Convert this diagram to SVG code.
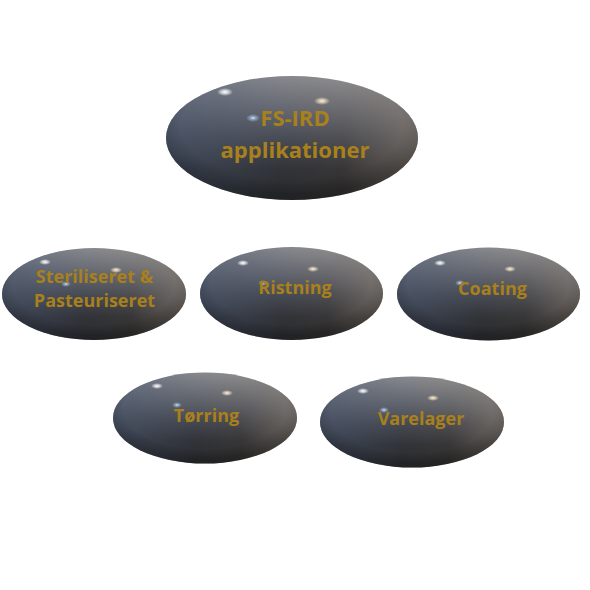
<svg xmlns="http://www.w3.org/2000/svg" width="590" height="590" viewBox="0 0 590 590">
<defs>
<linearGradient id="gv" x1="0" y1="0" x2="0" y2="1">
<stop offset="0" stop-color="#8e8e90"/>
<stop offset="0.25" stop-color="#6a6c72"/>
<stop offset="0.5" stop-color="#484a50"/>
<stop offset="0.75" stop-color="#2e2e30"/>
<stop offset="1" stop-color="#232323"/>
</linearGradient>
<linearGradient id="gh" x1="0" y1="0" x2="1" y2="0">
<stop offset="0" stop-color="#4a5a78" stop-opacity="0.5"/>
<stop offset="0.45" stop-color="#4a5a78" stop-opacity="0.12"/>
<stop offset="0.7" stop-color="#8a7c70" stop-opacity="0.1"/>
<stop offset="1" stop-color="#9a8c7c" stop-opacity="0.5"/>
</linearGradient>
<radialGradient id="ge" cx="0.5" cy="0.4" r="0.55">
<stop offset="0.8" stop-color="#000" stop-opacity="0"/>
<stop offset="1" stop-color="#000" stop-opacity="0.2"/>
</radialGradient>
<radialGradient id="hl" cx="0.5" cy="0.5" r="0.5">
<stop offset="0" stop-color="#ffffff" stop-opacity="1"/>
<stop offset="0.4" stop-color="#ffffff" stop-opacity="0.7"/>
<stop offset="1" stop-color="#ffffff" stop-opacity="0"/>
</radialGradient>
<radialGradient id="hw" cx="0.5" cy="0.5" r="0.5">
<stop offset="0" stop-color="#fff6e0" stop-opacity="1"/>
<stop offset="0.4" stop-color="#f6e6c8" stop-opacity="0.7"/>
<stop offset="1" stop-color="#f6e6c8" stop-opacity="0"/>
</radialGradient>
<radialGradient id="hb" cx="0.5" cy="0.5" r="0.5">
<stop offset="0" stop-color="#e0f0ff" stop-opacity="1"/>
<stop offset="0.4" stop-color="#a8c8ee" stop-opacity="0.6"/>
<stop offset="1" stop-color="#a8c8ee" stop-opacity="0"/>
</radialGradient>
</defs>
<style>
.b{fill:url(#gv)}
.h{fill:url(#gh)}
.e{fill:url(#ge)}
.t{font-family:"Open Sans","Noto Sans","Liberation Sans",sans-serif;font-weight:bold;fill:#a8801c;text-anchor:middle}
.s{font-size:18px}
.l{font-size:22px}
</style>
<rect width="590" height="590" fill="#ffffff"/>
<g id="connectors"></g>
<g id="n0">
<ellipse class="b" cx="292" cy="138" rx="126" ry="62"/>
<ellipse class="h" cx="292" cy="138" rx="126" ry="62"/>
<ellipse class="e" cx="292" cy="138" rx="126" ry="62"/>
<ellipse fill="url(#hl)" cx="225" cy="92" rx="8" ry="4"/>
<ellipse fill="url(#hw)" cx="322" cy="101" rx="8" ry="4"/>
<ellipse fill="url(#hb)" cx="253" cy="118" rx="7" ry="4"/>
<text class="t l" x="295" y="126">FS-IRD</text>
<text class="t l" x="295" y="158">applikationer</text>
</g>
<g id="n1">
<ellipse class="b" cx="94" cy="294" rx="92" ry="46"/>
<ellipse class="h" cx="94" cy="294" rx="92" ry="46"/>
<ellipse class="e" cx="94" cy="294" rx="92" ry="46"/>
<ellipse fill="url(#hl)" cx="45" cy="262" rx="6" ry="3"/>
<ellipse fill="url(#hw)" cx="116" cy="270" rx="6" ry="3"/>
<ellipse fill="url(#hb)" cx="66" cy="284" rx="5" ry="3"/>
<text class="t s" x="94.5" y="283">Steriliseret &amp;</text>
<text class="t s" x="94.5" y="307">Pasteuriseret</text>
</g>
<g id="n2">
<ellipse class="b" cx="291.5" cy="293.5" rx="91.5" ry="46.5"/>
<ellipse class="h" cx="291.5" cy="293.5" rx="91.5" ry="46.5"/>
<ellipse class="e" cx="291.5" cy="293.5" rx="91.5" ry="46.5"/>
<ellipse fill="url(#hl)" cx="243" cy="263" rx="6" ry="3"/>
<ellipse fill="url(#hw)" cx="313" cy="269" rx="6" ry="3"/>
<ellipse fill="url(#hb)" cx="263" cy="283" rx="5" ry="3"/>
<text class="t s" x="295" y="294">Ristning</text>
</g>
<g id="n3">
<ellipse class="b" cx="488.5" cy="294" rx="91.5" ry="46.5"/>
<ellipse class="h" cx="488.5" cy="294" rx="91.5" ry="46.5"/>
<ellipse class="e" cx="488.5" cy="294" rx="91.5" ry="46.5"/>
<ellipse fill="url(#hl)" cx="440" cy="263" rx="6" ry="3"/>
<ellipse fill="url(#hw)" cx="510" cy="269" rx="6" ry="3"/>
<ellipse fill="url(#hb)" cx="460" cy="283" rx="5" ry="3"/>
<text class="t s" x="492.5" y="295">Coating</text>
</g>
<g id="n4">
<ellipse class="b" cx="205" cy="418" rx="92" ry="45.5"/>
<ellipse class="h" cx="205" cy="418" rx="92" ry="45.5"/>
<ellipse class="e" cx="205" cy="418" rx="92" ry="45.5"/>
<ellipse fill="url(#hl)" cx="157" cy="386" rx="6" ry="3"/>
<ellipse fill="url(#hw)" cx="227" cy="393" rx="6" ry="3"/>
<ellipse fill="url(#hb)" cx="177" cy="405" rx="5" ry="3"/>
<text class="t s" x="206.5" y="422">Tørring</text>
</g>
<g id="n5">
<ellipse class="b" cx="412" cy="422" rx="92" ry="45.5"/>
<ellipse class="h" cx="412" cy="422" rx="92" ry="45.5"/>
<ellipse class="e" cx="412" cy="422" rx="92" ry="45.5"/>
<ellipse fill="url(#hl)" cx="363" cy="391" rx="6" ry="3"/>
<ellipse fill="url(#hw)" cx="433" cy="398" rx="6" ry="3"/>
<ellipse fill="url(#hb)" cx="384" cy="410" rx="5" ry="3"/>
<text class="t s" x="421" y="425">Varelager</text>
</g>
</svg>
